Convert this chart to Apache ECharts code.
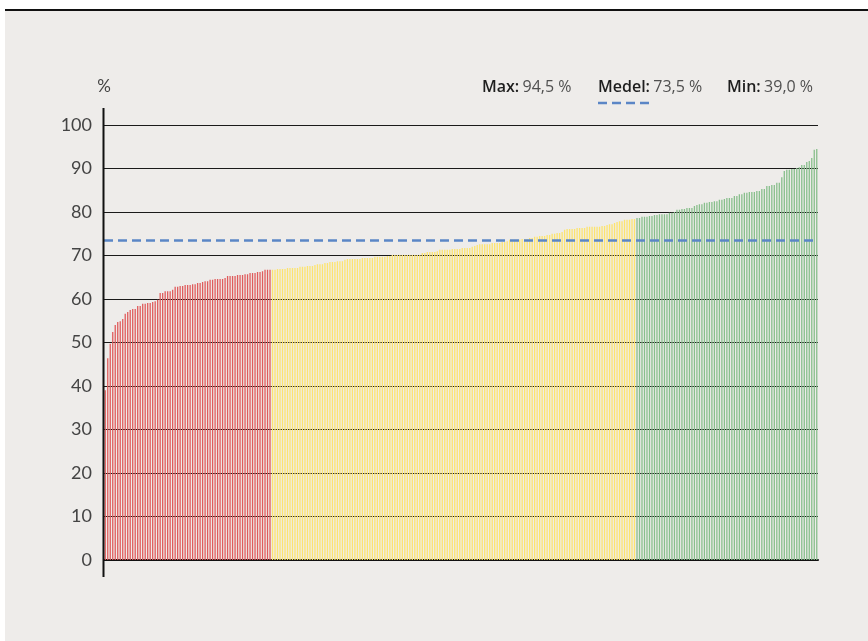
<!DOCTYPE html>
<html>
<head>
<meta charset="utf-8">
<script src="https://cdn.jsdelivr.net/npm/echarts@6/dist/echarts.min.js"></script>
<style>
  html, body { margin: 0; padding: 0; background: #fff; }
  #chart { width: 868px; height: 641px; }
</style>
</head>
<body>
<div id="chart"></div>
<script>
// sorted values, split by colour group
var redValues = [
  39.0, 46.4, 49.7, 52.4, 54.0, 54.7, 54.9, 55.4, 56.6, 57.0,
  57.5, 57.7, 57.7, 58.4, 58.4, 58.9, 58.9, 59.1, 59.1, 59.3,
  59.5, 59.8, 61.4, 61.4, 61.8, 61.8, 61.8, 62.1, 62.8, 62.8,
  63.0, 63.0, 63.2, 63.2, 63.2, 63.4, 63.4, 63.7, 63.7, 63.9,
  64.1, 64.1, 64.4, 64.4, 64.6, 64.6, 64.6, 64.6, 64.8, 65.3,
  65.3, 65.3, 65.3, 65.5, 65.5, 65.5, 65.7, 65.7, 66.0, 66.0,
  66.0, 66.2, 66.2, 66.4, 66.7, 66.7, 66.7
];
var yellowValues = [
  66.7, 66.7, 66.9, 66.9, 66.9, 66.9, 67.1, 67.1, 67.1, 67.1,
  67.1, 67.4, 67.4, 67.4, 67.6, 67.6, 67.6,
  67.8, 68.0, 68.0, 68.0, 68.3, 68.3, 68.5, 68.5, 68.5, 68.7,
  68.7, 68.7, 69.0, 69.2, 69.2, 69.2, 69.2, 69.2, 69.2, 69.4,
  69.4, 69.4, 69.4, 69.4, 69.7, 69.7, 69.7, 69.7, 69.7, 69.9, 69.9,
  70.1, 70.1, 70.1, 70.1, 70.1, 70.1, 70.1, 70.1, 70.1, 70.1, 70.1,
  70.1, 70.6, 70.6, 70.8, 70.8, 70.8, 70.8, 71.0, 71.3, 71.3,
  71.3, 71.3, 71.3, 71.5, 71.5, 71.5, 71.5, 71.7, 71.7, 71.7,
  71.7, 72.0, 72.2, 72.4, 72.6, 72.6, 72.6, 72.6, 72.6, 72.9,
  72.9, 72.9, 72.9, 73.1, 73.1, 73.3, 73.6, 73.6, 73.6, 73.6,
  73.6, 73.8, 73.8,
  73.8, 74.0, 74.0, 74.3, 74.3, 74.5, 74.5, 74.5, 74.7, 74.7,
  75.0, 75.0, 75.2, 75.2,
  75.4, 75.9, 76.1, 76.1, 76.1, 76.1, 76.3, 76.3, 76.3, 76.3,
  76.6, 76.6, 76.6, 76.6, 76.6, 76.6, 76.8, 76.8, 77.0, 77.2,
  77.2, 77.5, 77.7, 77.9, 77.9, 78.2, 78.2, 78.2, 78.4, 78.4
];
var greenValues = [
  78.6, 78.6, 78.9, 78.9, 78.9, 79.1, 79.1, 79.3, 79.3, 79.5,
  79.5, 79.5, 79.5, 79.8, 79.8, 80.0, 80.5, 80.5, 80.7, 80.7,
  80.9, 80.9, 80.9, 81.4,
  81.6, 81.8, 81.8, 82.1, 82.1, 82.3, 82.3, 82.5, 82.5, 82.8,
  82.8, 83.0, 83.2, 83.2, 83.2, 83.7, 83.7, 84.1, 84.1, 84.4,
  84.4, 84.6, 84.6, 84.6, 84.8, 84.8, 85.3, 85.3, 86.0, 86.0,
  86.2, 86.2, 86.7, 86.7, 88.0, 89.4, 89.7, 89.7, 89.9, 89.9,
  90.1, 90.3, 90.8, 90.8, 91.5, 91.7, 92.4, 94.3, 94.5
];

var meanValue = 73.5;
var statLabels = ['Max:', 'Medel:', 'Min:'];
var statTexts = ['94,5 %', '73,5 %', '39,0 %'];
var yTicks = [0, 10, 20, 30, 40, 50, 60, 70, 80, 90, 100];

var RED = '#e05c5c', YELLOW = '#fde46e', GREEN = '#88bf8c', BLUE = '#5b86c6';

var data = [];
redValues.forEach(function (v) { data.push({ value: v, itemStyle: { color: RED } }); });
yellowValues.forEach(function (v) { data.push({ value: v, itemStyle: { color: YELLOW } }); });
greenValues.forEach(function (v) { data.push({ value: v, itemStyle: { color: GREEN } }); });
var categories = data.map(function (d, i) { return String(i + 1); });

var gridLeft = 104, gridRight = 50, gridTop = 125, gridBottom = 81;
var font = 'Lato, "Open Sans", sans-serif';
var legendFont = '"Open Sans", Lato, sans-serif';

var chart = echarts.init(document.getElementById('chart'));

var statX = [482, 598, 727];
var graphics = [
  { type: 'rect', shape: { x: 0, y: 0, width: 868, height: 9 }, style: { fill: '#fff' }, z: 10 },
  { type: 'rect', shape: { x: 0, y: 0, width: 5, height: 641 }, style: { fill: '#fff' }, z: 10 },
  { type: 'line', shape: { x1: 5, y1: 10, x2: 868, y2: 10 }, style: { stroke: '#111', lineWidth: 2 }, z: 11 },
  { type: 'line', shape: { x1: gridLeft - 0.5, y1: 108, x2: gridLeft - 0.5, y2: 577 },
    style: { stroke: '#111', lineWidth: 2 }, z: 100 },
  { type: 'line', shape: { x1: 598, y1: 103, x2: 651, y2: 103 },
    style: { stroke: BLUE, lineWidth: 2.5, lineDash: [9, 5] }, z: 100 }
];
statLabels.forEach(function (lab, i) {
  graphics.push({
    type: 'text', x: statX[i], y: 87, z: 100,
    style: {
      text: '{b|' + lab + '} {n|' + statTexts[i] + '}',
      verticalAlign: 'middle',
      rich: {
        b: { fontFamily: legendFont, fontSize: 16, fontWeight: 600, fill: '#1e1e1e' },
        n: { fontFamily: legendFont, fontSize: 16, fill: '#505050' }
      }
    }
  });
});

chart.setOption({
  animation: false,
  backgroundColor: '#eeecea',
  grid: { left: gridLeft, right: gridRight, top: gridTop, bottom: gridBottom },
  xAxis: {
    type: 'category',
    data: categories,
    axisLine: { show: true, lineStyle: { color: '#111', width: 2 } },
    axisTick: { show: false },
    axisLabel: { show: false },
    splitLine: { show: false }
  },
  yAxis: {
    type: 'value',
    min: yTicks[0],
    max: yTicks[yTicks.length - 1],
    interval: 10,
    name: '%',
    nameLocation: 'end',
    nameGap: 38,
    nameTextStyle: { fontFamily: font, fontSize: 17, color: '#444', align: 'center', verticalAlign: 'middle' },
    axisLine: { show: false },
    axisTick: { show: false },
    axisLabel: { fontFamily: font, fontSize: 18, color: '#444', margin: 12 },
    splitLine: { lineStyle: { color: '#1a1a1a', width: 1 } }
  },
  series: [{
    type: 'bar',
    data: data,
    barCategoryGap: '48%',
    silent: true,
    markLine: {
      silent: true,
      symbol: 'none',
      label: { show: false },
      lineStyle: { color: BLUE, width: 2.5, type: [9, 5] },
      data: [{ yAxis: meanValue }]
    }
  }],
  graphic: graphics
});
</script>
</body>
</html>
